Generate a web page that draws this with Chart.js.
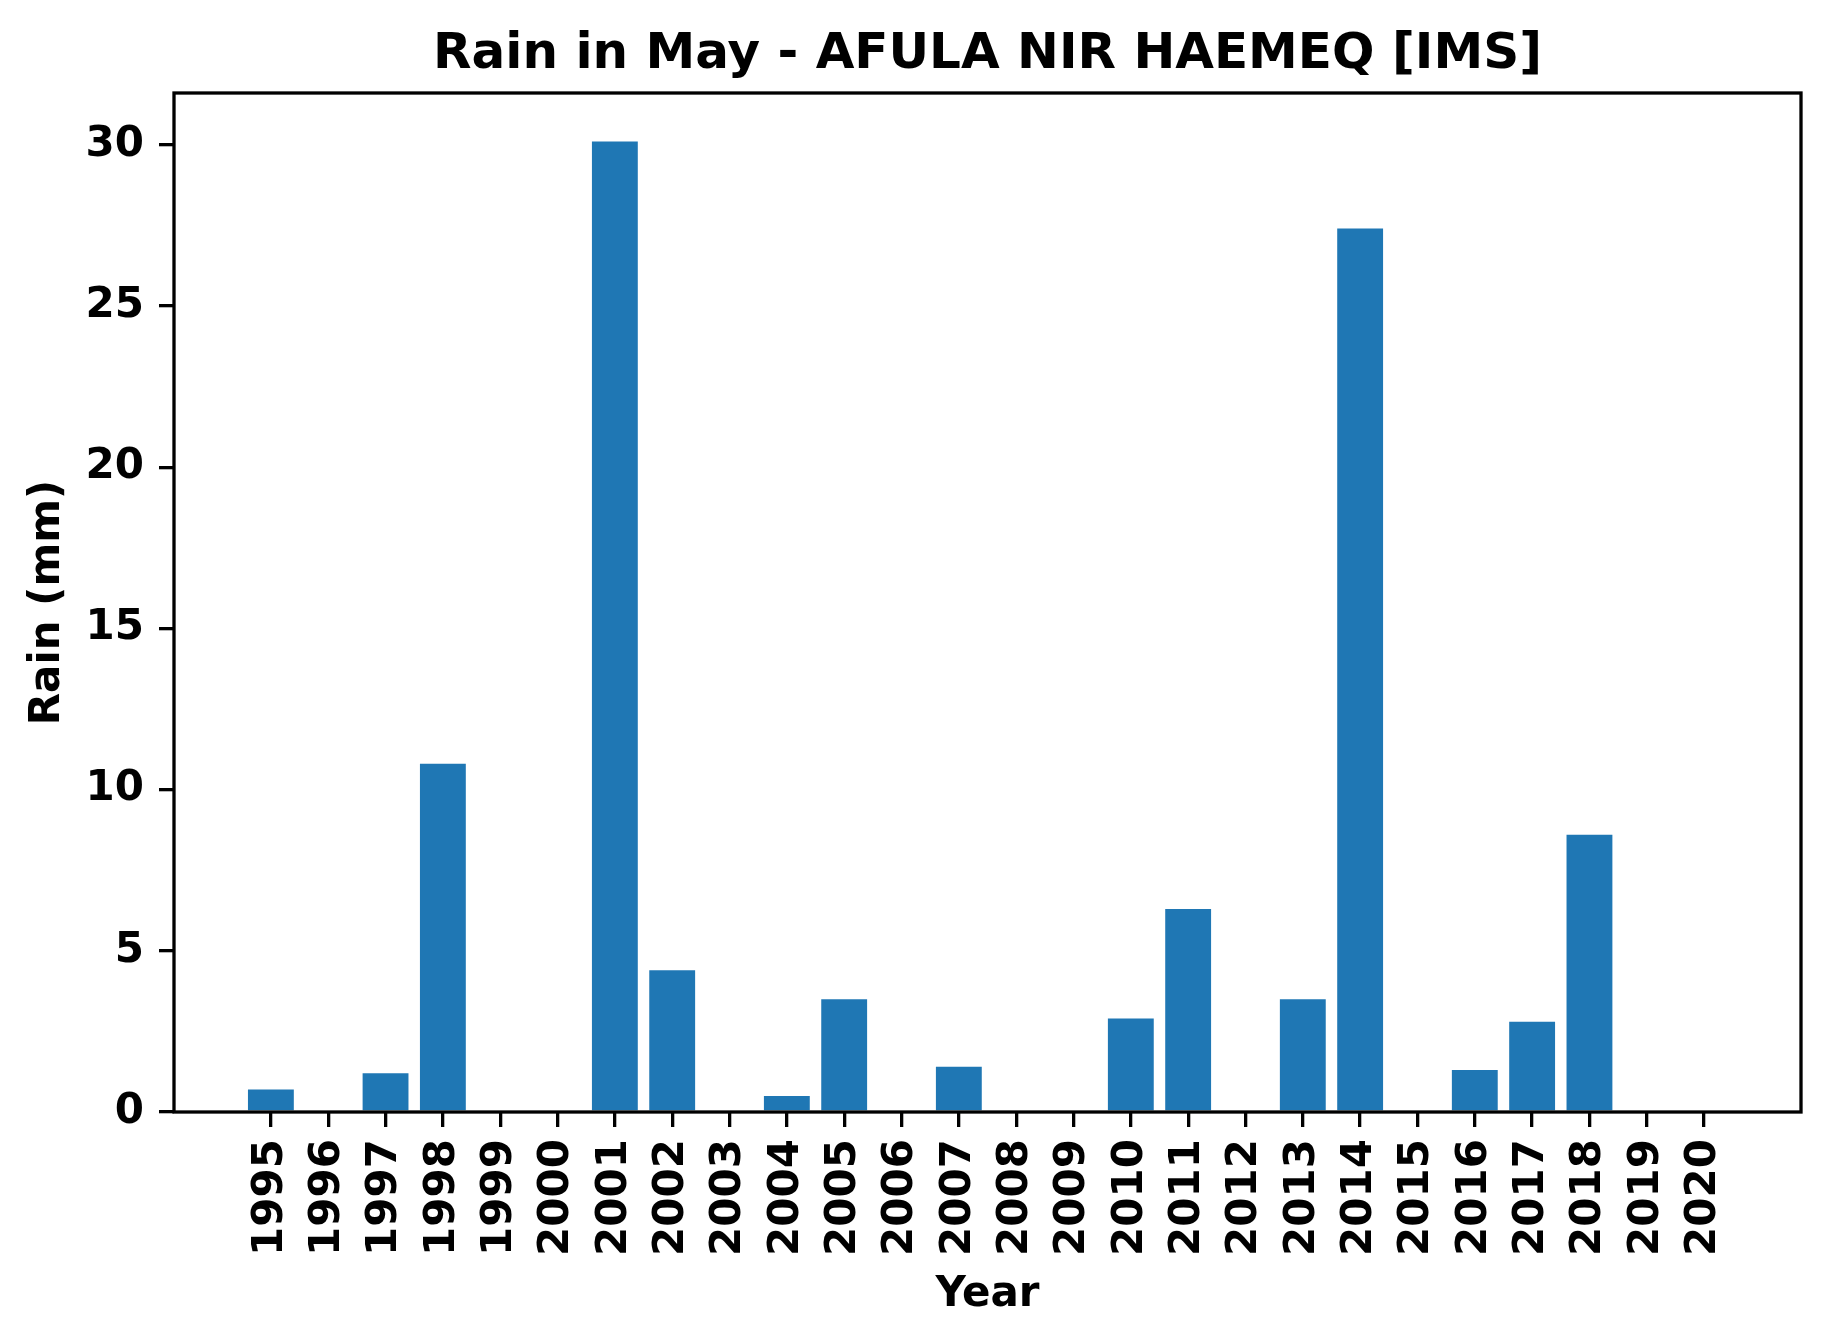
<!DOCTYPE html>
<html><head><meta charset="utf-8">
<script src="https://cdn.jsdelivr.net/npm/chart.js@4/dist/chart.umd.min.js"></script>
<style>html,body{margin:0;padding:0;background:#fff}</style>
</head><body>
<canvas id="c" width="1831" height="1344"></canvas>
<script>
const years = ["1995","1996","1997","1998","1999","2000","2001","2002","2003","2004","2005","2006","2007","2008","2009","2010","2011","2012","2013","2014","2015","2016","2017","2018","2019","2020"];
const rain = [0.7,0,1.2,10.8,0,0,30.1,4.4,0,0.5,3.5,0,1.4,0,0,2.9,6.3,0,3.5,27.4,0,1.3,2.8,8.6,0,0];
const yTicks = [0,5,10,15,20,25,30];
const titleText = "Rain in May - AFULA NIR HAEMEQ [IMS]";

const FONT = "'DejaVu Sans', sans-serif";
const frame = {
  id: 'frame',
  afterDatasetsDraw(chart) {
    const a = chart.chartArea, ctx = chart.ctx;
    ctx.save();
    ctx.strokeStyle = '#000';
    ctx.lineWidth = 3.3;
    ctx.strokeRect(a.left, a.top, a.right - a.left, a.bottom - a.top);
    ctx.restore();
  },
  afterDraw(chart) {
    const a = chart.chartArea, ctx = chart.ctx;
    ctx.save();
    ctx.fillStyle = '#000';
    ctx.font = "bold 50px " + FONT;
    ctx.textAlign = 'center';
    ctx.textBaseline = 'alphabetic';
    ctx.fillText(titleText, (a.left + a.right) / 2, 68);
    ctx.restore();
  }
};

new Chart(document.getElementById('c'), {
  type: 'bar',
  data: {
    datasets: [{
      data: rain.map((v, i) => ({x: i, y: v})),
      backgroundColor: '#1f77b4',
      borderWidth: 0,
      barPercentage: 0.8,
      categoryPercentage: 1.0
    }]
  },
  options: {
    responsive: false,
    devicePixelRatio: 1,
    animation: false,
    layout: {padding: {left: 0, right: 30, top: 93, bottom: 0}},
    plugins: {
      legend: {display: false},
      tooltip: {enabled: false},
      title: {display: false}
    },
    scales: {
      x: {
        type: 'linear',
        min: -1.69,
        max: 26.69,
        offset: false,
        afterBuildTicks: s => { s.ticks = years.map((y, i) => ({value: i})); },
        afterFit: s => { s.height = 232; },
        ticks: {
          autoSkip: false,
          minRotation: 90,
          maxRotation: 90,
          padding: 12,
          color: '#000',
          font: {family: FONT, size: 42, weight: 'bold'},
          callback: v => years[v]
        },
        grid: {offset: false, drawOnChartArea: false, drawTicks: true, tickLength: 15, color: '#000', lineWidth: 3.3},
        border: {display: false},
        title: {
          display: true, text: 'Year', color: '#000',
          font: {family: FONT, size: 42, weight: 'bold', lineHeight: 1.2},
          padding: {top: 0, bottom: 24}
        }
      },
      y: {
        min: 0,
        max: 31.605,
        afterBuildTicks: s => { s.ticks = yTicks.map(v => ({value: v})); },
        afterFit: s => { s.width = 174; },
        ticks: {
          padding: 15,
          color: '#000',
          font: {family: FONT, size: 42, weight: 'bold'}
        },
        grid: {drawOnChartArea: false, drawTicks: true, tickLength: 15, color: '#000', lineWidth: 3.3},
        border: {display: false},
        title: {
          display: true, text: 'Rain (mm)', color: '#000',
          font: {family: FONT, size: 42, weight: 'bold', lineHeight: 1.2},
          padding: {top: 23, bottom: 0}
        }
      }
    }
  },
  plugins: [frame]
});
</script>
</body></html>
